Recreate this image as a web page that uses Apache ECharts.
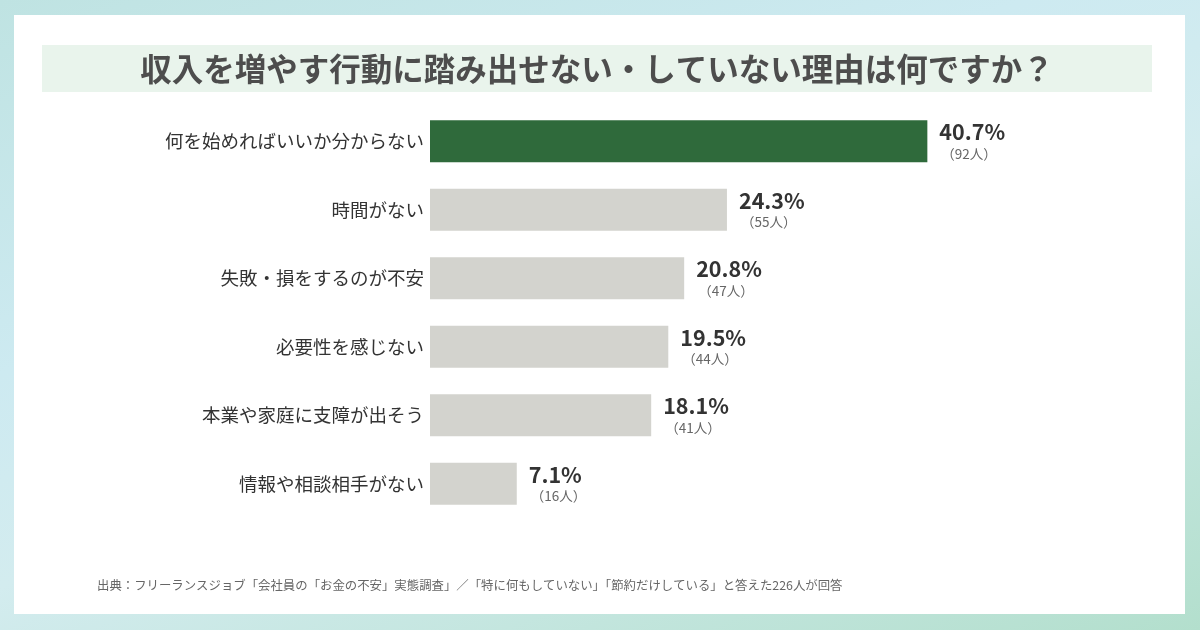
<!DOCTYPE html>
<html>
<head>
<meta charset="utf-8">
<script src="https://cdn.jsdelivr.net/npm/echarts@6/dist/echarts.min.js"></script>
<style>
  html, body { margin: 0; padding: 0; }
  body {
    width: 1200px; height: 630px; overflow: hidden;
    background: linear-gradient(160deg, #bfe3e2 0%, #cdeaf1 35%, #d3ecef 55%, #b3dfcd 100%);
  }
  #chart { width: 1200px; height: 630px; }
</style>
</head>
<body>
<div id="chart"></div>
<script>
var TITLE = '収入を増やす行動に踏み出せない・していない理由は何ですか？'
var SOURCE = '出典：フリーランスジョブ「会社員の「お金の不安」実態調査」／「特に何もしていない」「節約だけしている」と答えた226人が回答'

var categories = [
    '何を始めればいいか分からない',
    '時間がない',
    '失敗・損をするのが不安',
    '必要性を感じない',
    '本業や家庭に支障が出そう',
    '情報や相談相手がない'
]
var percents = [40.7, 24.3, 20.8, 19.5, 18.1, 7.1]
var counts = [92, 55, 47, 44, 41, 16]

var FONT = '"Noto Sans CJK JP", "Noto Sans", sans-serif'

var chart = echarts.init(document.getElementById('chart'))

var barData = percents.map(function (v, i) {
    return {
        value: v,
        itemStyle: { color: i == 0 ? '#2f6a3b' : '#d3d3ce' }
    }
})

var option = {
    backgroundColor: 'transparent',
    animation: false,
    textStyle: { fontFamily: FONT },
    graphic: [
        {
            type: 'rect', z: -10,
            shape: { x: 14, y: 15, width: 1171, height: 599 },
            style: { fill: '#ffffff' }
        },
        {
            type: 'rect', z: -9,
            shape: { x: 42, y: 45, width: 1110, height: 47 },
            style: { fill: '#e9f4ec' }
        },
        {
            type: 'text', z: 5,
            x: 597, y: 69,
            style: {
                text: TITLE,
                fill: '#4d4d4d',
                font: 'bold 31.5px ' + FONT,
                textAlign: 'center',
                textVerticalAlign: 'middle'
            }
        },
        {
            type: 'text', z: 5,
            x: 97, y: 585,
            style: {
                text: SOURCE,
                fill: '#666666',
                font: '12.4px ' + FONT,
                textAlign: 'left',
                textVerticalAlign: 'middle'
            }
        }
    ],
    grid: {
        left: 430,
        right: 159,
        top: 107,
        bottom: 112,
        containLabel: false
    },
    xAxis: {
        type: 'value',
        min: 0,
        max: 50,
        show: false
    },
    yAxis: {
        type: 'category',
        data: categories,
        inverse: true,
        axisLine: { show: false },
        axisTick: { show: false },
        axisLabel: {
            margin: 6,
            fontSize: 18.5,
            color: '#333333',
            fontFamily: FONT
        }
    },
    series: [
        {
            type: 'bar',
            data: barData,
            barWidth: 42,
            label: {
                show: true,
                position: 'right',
                distance: 12,
                align: 'left',
                formatter: function (p) {
                    return '{a|' + percents[p.dataIndex].toFixed(1) + '%}\n{b|（' + counts[p.dataIndex] + '人）}'
                },
                rich: {
                    a: {
                        fontSize: 21.5,
                        fontWeight: 'bold',
                        color: '#333333',
                        fontFamily: FONT,
                        lineHeight: 25
                    },
                    b: {
                        fontSize: 13.5,
                        color: '#666666',
                        fontFamily: FONT,
                        lineHeight: 18,
                        padding: [0, 0, 0, 2]
                    }
                }
            }
        }
    ]
}

chart.setOption(option)
</script>
</body>
</html>
